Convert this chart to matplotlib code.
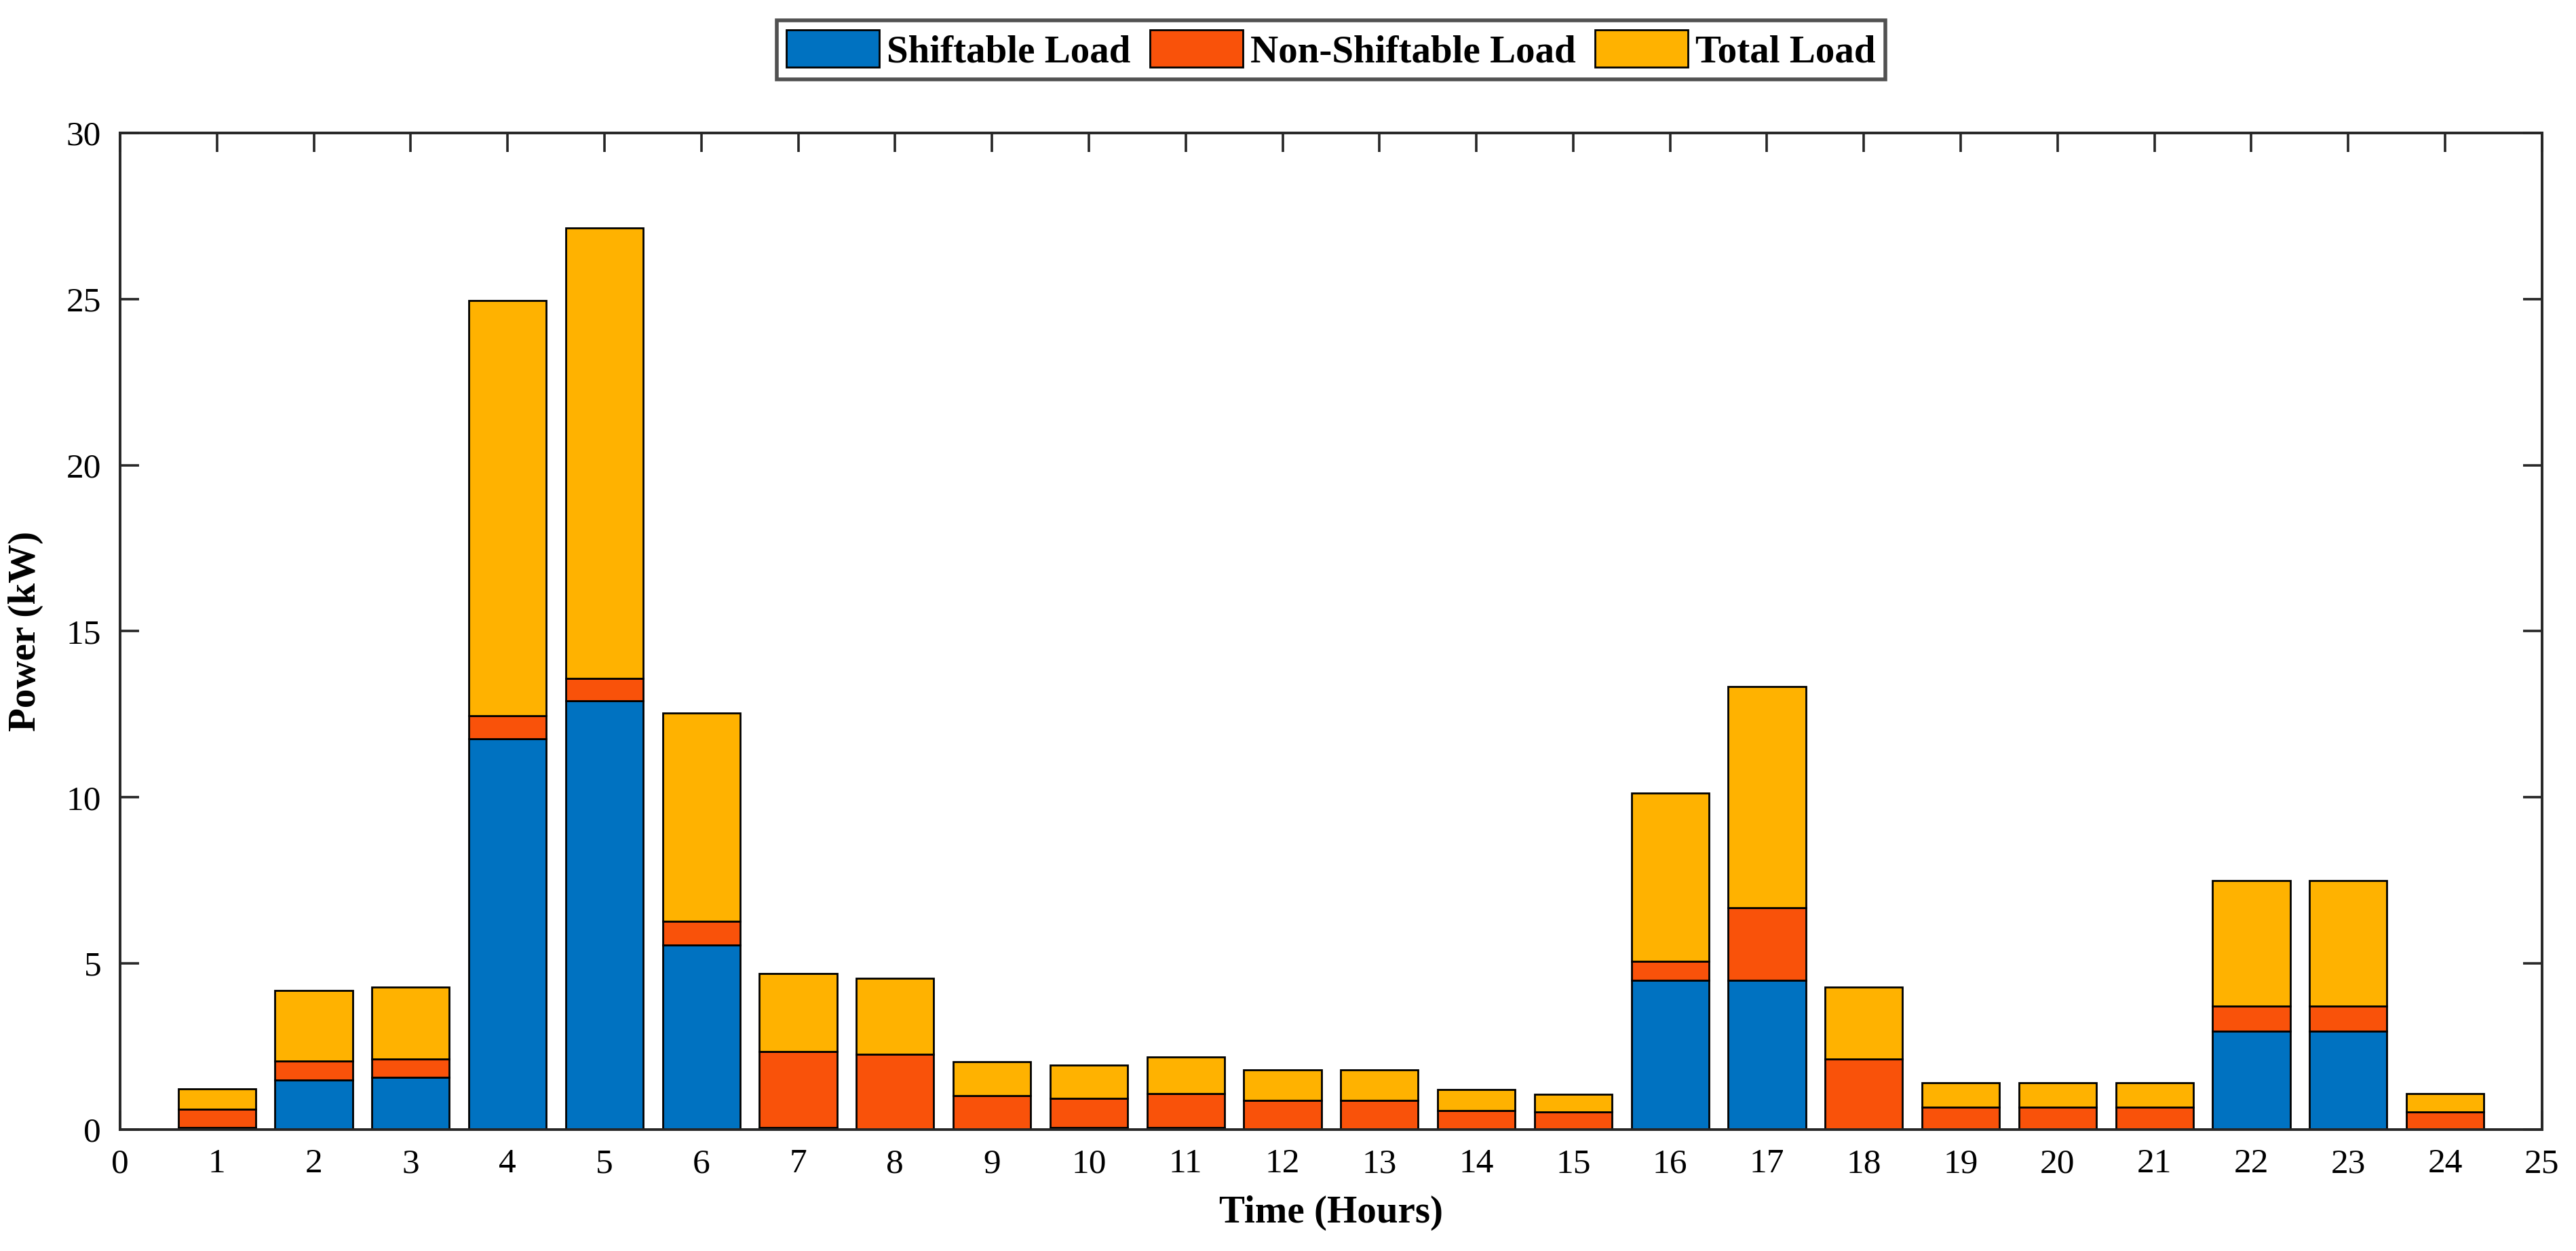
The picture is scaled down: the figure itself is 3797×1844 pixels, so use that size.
import numpy as np
import matplotlib.pyplot as plt

hours = np.arange(1, 25)

# (kW)
shiftable = [0.05, 1.50, 1.57, 11.76, 12.90, 5.56, 0.05, 0.00, 0.00, 0.05, 0.05, 0.00,
             0.00, 0.00, 0.00, 4.50, 4.50, 0.00, 0.00, 0.00, 0.00, 2.97, 2.97, 0.00]
non_shiftable = [0.56, 0.56, 0.56, 0.70, 0.68, 0.70, 2.29, 2.27, 1.01, 0.89, 1.03, 0.87,
                 0.87, 0.58, 0.52, 0.56, 2.17, 2.13, 0.67, 0.67, 0.67, 0.75, 0.75, 0.53]
total = [0.61, 2.12, 2.15, 12.50, 13.56, 6.27, 2.36, 2.29, 1.04, 0.99, 1.10, 0.93,
         0.93, 0.62, 0.55, 5.06, 6.67, 2.15, 0.73, 0.73, 0.73, 3.78, 3.78, 0.55]

COLORS = ["#0072C1", "#F9520A", "#FFB200"]
LABELS = ["Shiftable Load", "Non-Shiftable Load", "Total Load"]
AX_COLOR = "#262626"

plt.rcParams["font.family"] = ["Liberation Serif", "DejaVu Serif"]

fig = plt.figure(figsize=(18.985, 9.22), dpi=200, facecolor="white")
ax = fig.add_axes([0.0466, 0.0971, 0.9402, 0.7966])

s = np.array(shiftable)
n = np.array(non_shiftable)
t = np.array(total)
bottoms = [np.zeros_like(s), s, s + n]
for vals, bot, col, lab in zip([s, n, t], bottoms, COLORS, LABELS):
    ax.bar(hours, vals, width=0.8, bottom=bot, color=col, edgecolor="black",
           linewidth=1.0, label=lab, zorder=2)

ax.set_xlim(0, 25)
ax.set_ylim(0, 30)
ax.set_xticks(np.arange(0, 26))
ax.set_yticks(np.arange(0, 31, 5))

ax.tick_params(direction="in", length=10, width=1.3, colors=AX_COLOR,
               labelsize=18.5, top=True, right=True, pad=10)
for lbl in ax.get_xticklabels() + ax.get_yticklabels():
    lbl.set_color("black")
for sp in ax.spines.values():
    sp.set_color(AX_COLOR)
    sp.set_linewidth(1.4)
    sp.set_zorder(3)

ax.set_xlabel("Time (Hours)", fontsize=20.5, fontweight="bold", labelpad=8)
ax.set_ylabel("Power (kW)", fontsize=20.5, fontweight="bold", labelpad=12)

leg = fig.legend(loc="center", bbox_to_anchor=(0.5167, 0.9600), ncol=3,
                 prop={"size": 20.5, "weight": "bold"}, frameon=True, fancybox=False,
                 handlelength=2.4, handleheight=1.1, handletextpad=0.2,
                 columnspacing=0.5, borderpad=0.25, borderaxespad=0.2)
leg.get_frame().set_edgecolor(AX_COLOR)
leg.get_frame().set_linewidth(2.0)

fig.savefig("out.png", dpi=200, facecolor="white")
